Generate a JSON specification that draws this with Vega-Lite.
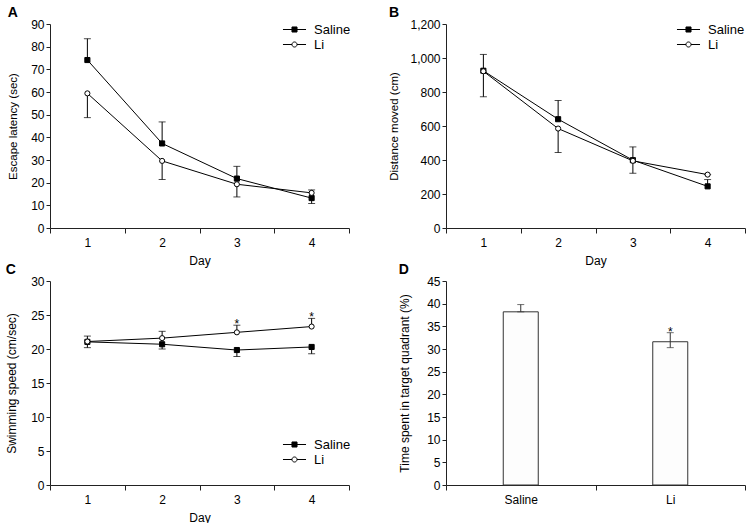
{
  "$schema": "https://vega.github.io/schema/vega-lite/v6.json",
  "padding": {"left": 5, "top": 6, "right": 0, "bottom": 0},
  "datasets": {
    "lines": [
      {"panel": "A", "day": 1, "group": "Saline", "value": 74.1, "err": 83.5, "star": ""},
      {"panel": "A", "day": 2, "group": "Saline", "value": 37.3, "err": 46.8, "star": ""},
      {"panel": "A", "day": 3, "group": "Saline", "value": 21.8, "err": 27.2, "star": ""},
      {"panel": "A", "day": 4, "group": "Saline", "value": 13.2, "err": 10.8, "star": ""},
      {"panel": "A", "day": 1, "group": "Li", "value": 59.4, "err": 48.7, "star": ""},
      {"panel": "A", "day": 2, "group": "Li", "value": 29.6, "err": 21.4, "star": ""},
      {"panel": "A", "day": 3, "group": "Li", "value": 19.3, "err": 13.7, "star": ""},
      {"panel": "A", "day": 4, "group": "Li", "value": 15.5, "err": 16.8, "star": ""},
      {"panel": "B", "day": 1, "group": "Saline", "value": 925, "err": 1021, "star": ""},
      {"panel": "B", "day": 2, "group": "Saline", "value": 640, "err": 750, "star": ""},
      {"panel": "B", "day": 3, "group": "Saline", "value": 399, "err": 477, "star": ""},
      {"panel": "B", "day": 4, "group": "Saline", "value": 245, "err": 285, "star": ""},
      {"panel": "B", "day": 1, "group": "Li", "value": 922, "err": 772, "star": ""},
      {"panel": "B", "day": 2, "group": "Li", "value": 585, "err": 444, "star": ""},
      {"panel": "B", "day": 3, "group": "Li", "value": 395, "err": 322, "star": ""},
      {"panel": "B", "day": 4, "group": "Li", "value": 314, "err": 314, "star": ""},
      {"panel": "C", "day": 1, "group": "Saline", "value": 21.05, "err": 20.2, "star": ""},
      {"panel": "C", "day": 2, "group": "Saline", "value": 20.7, "err": 20.0, "star": ""},
      {"panel": "C", "day": 3, "group": "Saline", "value": 19.85, "err": 18.9, "star": ""},
      {"panel": "C", "day": 4, "group": "Saline", "value": 20.3, "err": 19.3, "star": ""},
      {"panel": "C", "day": 1, "group": "Li", "value": 21.1, "err": 21.9, "star": ""},
      {"panel": "C", "day": 2, "group": "Li", "value": 21.6, "err": 22.6, "star": ""},
      {"panel": "C", "day": 3, "group": "Li", "value": 22.45, "err": 23.5, "star": "*"},
      {"panel": "C", "day": 4, "group": "Li", "value": 23.3, "err": 24.5, "star": "*"}
    ],
    "bars": [
      {"group": "Saline", "value": 38.2, "hi": 39.8, "lo": 38.2, "star": ""},
      {"group": "Li", "value": 31.6, "hi": 33.6, "lo": 30.3, "star": "*"}
    ]
  },
  "columns": 2,
  "spacing": {"column": 37, "row": -3},
  "concat": [
    {
      "title": "A",
      "width": 299,
      "height": 204,
      "data": {"name": "lines"},
      "transform": [{"filter": "datum.panel === 'A'"}],
      "encoding": {
        "x": {"field": "day", "type": "ordinal", "scale": {"type": "band", "paddingInner": 0, "paddingOuter": 0},
              "axis": {"title": "Day", "labelAngle": 0, "tickBand": "extent", "tickSize": 5, "labelPadding": 4, "titlePadding": 7}}
      },
      "layer": [
        {"mark": {"type": "rule", "color": "#000", "strokeWidth": 1},
         "encoding": {"y": {"field": "value", "type": "quantitative", "scale": {"domain": [0, 90]},
                            "axis": {"title": "Escape latency (sec)", "values": [0,10,20,30,40,50,60,70,80,90], "titlePadding": 12, "titleFontSize": 11.5}},
                      "y2": {"field": "err"}}},
        {"mark": {"type": "tick", "color": "#000", "size": 7, "thickness": 1},
         "encoding": {"y": {"field": "err", "type": "quantitative", "axis": {"title": "Escape latency (sec)", "values": [0,10,20,30,40,50,60,70,80,90], "titlePadding": 12, "titleFontSize": 11.5}}}},
        {"mark": {"type": "line", "color": "#000", "strokeWidth": 1},
         "encoding": {"y": {"field": "value", "type": "quantitative", "axis": {"title": "Escape latency (sec)", "values": [0,10,20,30,40,50,60,70,80,90], "titlePadding": 12, "titleFontSize": 11.5}}, "detail": {"field": "group"}}},
        {"transform": [{"filter": "datum.group === 'Saline'"}],
         "mark": {"type": "point", "shape": "square", "filled": true, "fill": "#000", "stroke": "#000", "strokeWidth": 1, "opacity": 1, "size": 26},
         "encoding": {"y": {"field": "value", "type": "quantitative", "axis": {"title": "Escape latency (sec)", "values": [0,10,20,30,40,50,60,70,80,90], "titlePadding": 12, "titleFontSize": 11.5}}}},
        {"transform": [{"filter": "datum.group === 'Li'"}],
         "mark": {"type": "point", "shape": "circle", "filled": true, "fill": "#fff", "stroke": "#000", "strokeWidth": 1, "opacity": 1, "size": 26},
         "encoding": {"y": {"field": "value", "type": "quantitative", "axis": {"title": "Escape latency (sec)", "values": [0,10,20,30,40,50,60,70,80,90], "titlePadding": 12, "titleFontSize": 11.5}}}},
        {"mark": {"type": "point", "filled": true, "stroke": "#000", "strokeWidth": 1, "opacity": 0, "size": 1},
         "encoding": {
           "y": {"field": "value", "type": "quantitative", "axis": {"title": "Escape latency (sec)", "values": [0,10,20,30,40,50,60,70,80,90], "titlePadding": 12, "titleFontSize": 11.5}},
           "shape": {"field": "group", "type": "nominal", "scale": {"domain": ["Saline", "Li"], "range": ["M-1.92,0H1.92M-0.42,-0.42H0.42V0.42H-0.42Z", "M-1.92,0H-0.42M0.42,0H1.92M0.42,0A0.42,0.42,0,1,1,-0.42,0A0.42,0.42,0,1,1,0.42,0Z"]},
                     "legend": {"title": null, "orient": "none", "legendX": 238, "legendY": -1, "labelFontSize": 13, "labelColor": "#000", "symbolSize": 144, "symbolOpacity": 1, "symbolStrokeColor": "#000", "symbolStrokeWidth": 1, "rowPadding": 1, "labelOffset": 13, "padding": 0,
                                "encode": {"symbols": {"update": {"stroke": {"value": "#000"}, "strokeWidth": {"value": 1}, "opacity": {"value": 1}}}}}},
           "fill": {"field": "group", "type": "nominal", "scale": {"domain": ["Saline", "Li"], "range": ["#000", "#fff"]},
                    "legend": {"title": null, "orient": "none", "legendX": 238, "legendY": -1, "labelFontSize": 13, "labelColor": "#000", "symbolSize": 144, "symbolOpacity": 1, "symbolStrokeColor": "#000", "symbolStrokeWidth": 1, "rowPadding": 1, "labelOffset": 13, "padding": 0,
                               "encode": {"symbols": {"update": {"stroke": {"value": "#000"}, "strokeWidth": {"value": 1}, "opacity": {"value": 1}}}}}}
         }}
      ]
    },
    {
      "title": "B",
      "width": 299,
      "height": 204,
      "data": {"name": "lines"},
      "transform": [{"filter": "datum.panel === 'B'"}],
      "encoding": {
        "x": {"field": "day", "type": "ordinal", "scale": {"type": "band", "paddingInner": 0, "paddingOuter": 0},
              "axis": {"title": "Day", "labelAngle": 0, "tickBand": "extent", "tickSize": 5, "labelPadding": 4, "titlePadding": 7}}
      },
      "layer": [
        {"mark": {"type": "rule", "color": "#000", "strokeWidth": 1},
         "encoding": {"y": {"field": "value", "type": "quantitative", "scale": {"domain": [0, 1200]},
                            "axis": {"title": "Distance moved (cm)", "values": [0,200,400,600,800,1000,1200], "format": ",.0f", "titlePadding": 10, "titleFontSize": 11.5}},
                      "y2": {"field": "err"}}},
        {"mark": {"type": "tick", "color": "#000", "size": 7, "thickness": 1},
         "encoding": {"y": {"field": "err", "type": "quantitative", "axis": {"title": "Distance moved (cm)", "values": [0,200,400,600,800,1000,1200], "format": ",.0f", "titlePadding": 10, "titleFontSize": 11.5}}}},
        {"mark": {"type": "line", "color": "#000", "strokeWidth": 1},
         "encoding": {"y": {"field": "value", "type": "quantitative", "axis": {"title": "Distance moved (cm)", "values": [0,200,400,600,800,1000,1200], "format": ",.0f", "titlePadding": 10, "titleFontSize": 11.5}}, "detail": {"field": "group"}}},
        {"transform": [{"filter": "datum.group === 'Saline'"}],
         "mark": {"type": "point", "shape": "square", "filled": true, "fill": "#000", "stroke": "#000", "strokeWidth": 1, "opacity": 1, "size": 26},
         "encoding": {"y": {"field": "value", "type": "quantitative", "axis": {"title": "Distance moved (cm)", "values": [0,200,400,600,800,1000,1200], "format": ",.0f", "titlePadding": 10, "titleFontSize": 11.5}}}},
        {"transform": [{"filter": "datum.group === 'Li'"}],
         "mark": {"type": "point", "shape": "circle", "filled": true, "fill": "#fff", "stroke": "#000", "strokeWidth": 1, "opacity": 1, "size": 26},
         "encoding": {"y": {"field": "value", "type": "quantitative", "axis": {"title": "Distance moved (cm)", "values": [0,200,400,600,800,1000,1200], "format": ",.0f", "titlePadding": 10, "titleFontSize": 11.5}}}},
        {"mark": {"type": "point", "filled": true, "stroke": "#000", "strokeWidth": 1, "opacity": 0, "size": 1},
         "encoding": {
           "y": {"field": "value", "type": "quantitative", "axis": {"title": "Distance moved (cm)", "values": [0,200,400,600,800,1000,1200], "format": ",.0f", "titlePadding": 10, "titleFontSize": 11.5}},
           "shape": {"field": "group", "type": "nominal", "scale": {"domain": ["Saline", "Li"], "range": ["M-1.92,0H1.92M-0.42,-0.42H0.42V0.42H-0.42Z", "M-1.92,0H-0.42M0.42,0H1.92M0.42,0A0.42,0.42,0,1,1,-0.42,0A0.42,0.42,0,1,1,0.42,0Z"]},
                     "legend": {"title": null, "orient": "none", "legendX": 236, "legendY": -1, "labelFontSize": 13, "labelColor": "#000", "symbolSize": 144, "symbolOpacity": 1, "symbolStrokeColor": "#000", "symbolStrokeWidth": 1, "rowPadding": 1, "labelOffset": 13, "padding": 0,
                                "encode": {"symbols": {"update": {"stroke": {"value": "#000"}, "strokeWidth": {"value": 1}, "opacity": {"value": 1}}}}}},
           "fill": {"field": "group", "type": "nominal", "scale": {"domain": ["Saline", "Li"], "range": ["#000", "#fff"]},
                    "legend": {"title": null, "orient": "none", "legendX": 236, "legendY": -1, "labelFontSize": 13, "labelColor": "#000", "symbolSize": 144, "symbolOpacity": 1, "symbolStrokeColor": "#000", "symbolStrokeWidth": 1, "rowPadding": 1, "labelOffset": 13, "padding": 0,
                               "encode": {"symbols": {"update": {"stroke": {"value": "#000"}, "strokeWidth": {"value": 1}, "opacity": {"value": 1}}}}}}
         }}
      ]
    },
    {
      "title": "C",
      "width": 299,
      "height": 204,
      "data": {"name": "lines"},
      "transform": [{"filter": "datum.panel === 'C'"}],
      "encoding": {
        "x": {"field": "day", "type": "ordinal", "scale": {"type": "band", "paddingInner": 0, "paddingOuter": 0},
              "axis": {"title": "Day", "labelAngle": 0, "tickBand": "extent", "tickSize": 5, "labelPadding": 4, "titlePadding": 7}}
      },
      "layer": [
        {"mark": {"type": "rule", "color": "#000", "strokeWidth": 1},
         "encoding": {"y": {"field": "value", "type": "quantitative", "scale": {"domain": [0, 30]},
                            "axis": {"title": "Swimming speed (cm/sec)", "values": [0,5,10,15,20,25,30], "titlePadding": 12}},
                      "y2": {"field": "err"}}},
        {"mark": {"type": "tick", "color": "#000", "size": 7, "thickness": 1},
         "encoding": {"y": {"field": "err", "type": "quantitative", "axis": {"title": "Swimming speed (cm/sec)", "values": [0,5,10,15,20,25,30], "titlePadding": 12}}}},
        {"mark": {"type": "text", "color": "#000", "fontSize": 12, "baseline": "alphabetic", "dy": 3},
         "encoding": {"y": {"field": "err", "type": "quantitative", "axis": {"title": "Swimming speed (cm/sec)", "values": [0,5,10,15,20,25,30], "titlePadding": 12}}, "text": {"field": "star"}}},
        {"mark": {"type": "line", "color": "#000", "strokeWidth": 1},
         "encoding": {"y": {"field": "value", "type": "quantitative", "axis": {"title": "Swimming speed (cm/sec)", "values": [0,5,10,15,20,25,30], "titlePadding": 12}}, "detail": {"field": "group"}}},
        {"transform": [{"filter": "datum.group === 'Saline'"}],
         "mark": {"type": "point", "shape": "square", "filled": true, "fill": "#000", "stroke": "#000", "strokeWidth": 1, "opacity": 1, "size": 26},
         "encoding": {"y": {"field": "value", "type": "quantitative", "axis": {"title": "Swimming speed (cm/sec)", "values": [0,5,10,15,20,25,30], "titlePadding": 12}}}},
        {"transform": [{"filter": "datum.group === 'Li'"}],
         "mark": {"type": "point", "shape": "circle", "filled": true, "fill": "#fff", "stroke": "#000", "strokeWidth": 1, "opacity": 1, "size": 26},
         "encoding": {"y": {"field": "value", "type": "quantitative", "axis": {"title": "Swimming speed (cm/sec)", "values": [0,5,10,15,20,25,30], "titlePadding": 12}}}},
        {"mark": {"type": "point", "filled": true, "stroke": "#000", "strokeWidth": 1, "opacity": 0, "size": 1},
         "encoding": {
           "y": {"field": "value", "type": "quantitative", "axis": {"title": "Swimming speed (cm/sec)", "values": [0,5,10,15,20,25,30], "titlePadding": 12}},
           "shape": {"field": "group", "type": "nominal", "scale": {"domain": ["Saline", "Li"], "range": ["M-1.92,0H1.92M-0.42,-0.42H0.42V0.42H-0.42Z", "M-1.92,0H-0.42M0.42,0H1.92M0.42,0A0.42,0.42,0,1,1,-0.42,0A0.42,0.42,0,1,1,0.42,0Z"]},
                     "legend": {"title": null, "orient": "none", "legendX": 238, "legendY": 157, "labelFontSize": 13, "labelColor": "#000", "symbolSize": 144, "symbolOpacity": 1, "symbolStrokeColor": "#000", "symbolStrokeWidth": 1, "rowPadding": 1, "labelOffset": 13, "padding": 0,
                                "encode": {"symbols": {"update": {"stroke": {"value": "#000"}, "strokeWidth": {"value": 1}, "opacity": {"value": 1}}}}}},
           "fill": {"field": "group", "type": "nominal", "scale": {"domain": ["Saline", "Li"], "range": ["#000", "#fff"]},
                    "legend": {"title": null, "orient": "none", "legendX": 238, "legendY": 157, "labelFontSize": 13, "labelColor": "#000", "symbolSize": 144, "symbolOpacity": 1, "symbolStrokeColor": "#000", "symbolStrokeWidth": 1, "rowPadding": 1, "labelOffset": 13, "padding": 0,
                               "encode": {"symbols": {"update": {"stroke": {"value": "#000"}, "strokeWidth": {"value": 1}, "opacity": {"value": 1}}}}}}
         }}
      ]
    },
    {
      "title": "D",
      "width": 299,
      "height": 204,
      "data": {"name": "bars"},
      "encoding": {
        "x": {"field": "group", "type": "nominal", "sort": ["Saline", "Li"], "scale": {"type": "band", "paddingInner": 0, "paddingOuter": 0},
              "axis": {"title": null, "labelAngle": 0, "tickBand": "extent", "tickSize": 5, "labelPadding": 4}}
      },
      "layer": [
        {"mark": {"type": "bar", "width": 35, "fill": "#fdfdfd", "stroke": "#333", "strokeWidth": 1},
         "encoding": {"y": {"field": "value", "type": "quantitative", "scale": {"domain": [0, 45]},
                            "axis": {"title": "Time spent in target quadrant (%)", "values": [0,5,10,15,20,25,30,35,40,45], "titlePadding": 15}}}},
        {"mark": {"type": "rule", "color": "#333", "strokeWidth": 1},
         "encoding": {"y": {"field": "lo", "type": "quantitative", "axis": {"title": "Time spent in target quadrant (%)", "values": [0,5,10,15,20,25,30,35,40,45], "titlePadding": 15}}, "y2": {"field": "hi"}}},
        {"mark": {"type": "tick", "color": "#333", "size": 7, "thickness": 1},
         "encoding": {"y": {"field": "hi", "type": "quantitative", "axis": {"title": "Time spent in target quadrant (%)", "values": [0,5,10,15,20,25,30,35,40,45], "titlePadding": 15}}}},
        {"mark": {"type": "tick", "color": "#333", "size": 7, "thickness": 1},
         "encoding": {"y": {"field": "lo", "type": "quantitative", "axis": {"title": "Time spent in target quadrant (%)", "values": [0,5,10,15,20,25,30,35,40,45], "titlePadding": 15}}}},
        {"mark": {"type": "text", "color": "#000", "fontSize": 12, "baseline": "alphabetic", "dy": 3},
         "encoding": {"y": {"field": "hi", "type": "quantitative", "axis": {"title": "Time spent in target quadrant (%)", "values": [0,5,10,15,20,25,30,35,40,45], "titlePadding": 15}}, "text": {"field": "star"}}}
      ]
    }
  ],
  "resolve": {"scale": {"x": "independent", "y": "independent", "shape": "independent", "fill": "independent"}, "legend": {"shape": "independent", "fill": "independent"}},
  "config": {
    "font": "Liberation Sans",
    "view": {"stroke": null},
    "axis": {"grid": false, "domainColor": "#222", "tickColor": "#222", "labelColor": "#000", "titleColor": "#000", "labelFontSize": 12, "titleFontSize": 12, "titleFontWeight": "normal", "tickSize": 4, "labelPadding": 2, "labelFont": "Liberation Sans", "titleFont": "Liberation Sans"},
    "title": {"anchor": "start", "frame": "bounds", "fontSize": 14, "fontWeight": "bold", "offset": -2, "color": "#000"},
    "legend": {"labelFont": "Liberation Sans"}
  }
}
